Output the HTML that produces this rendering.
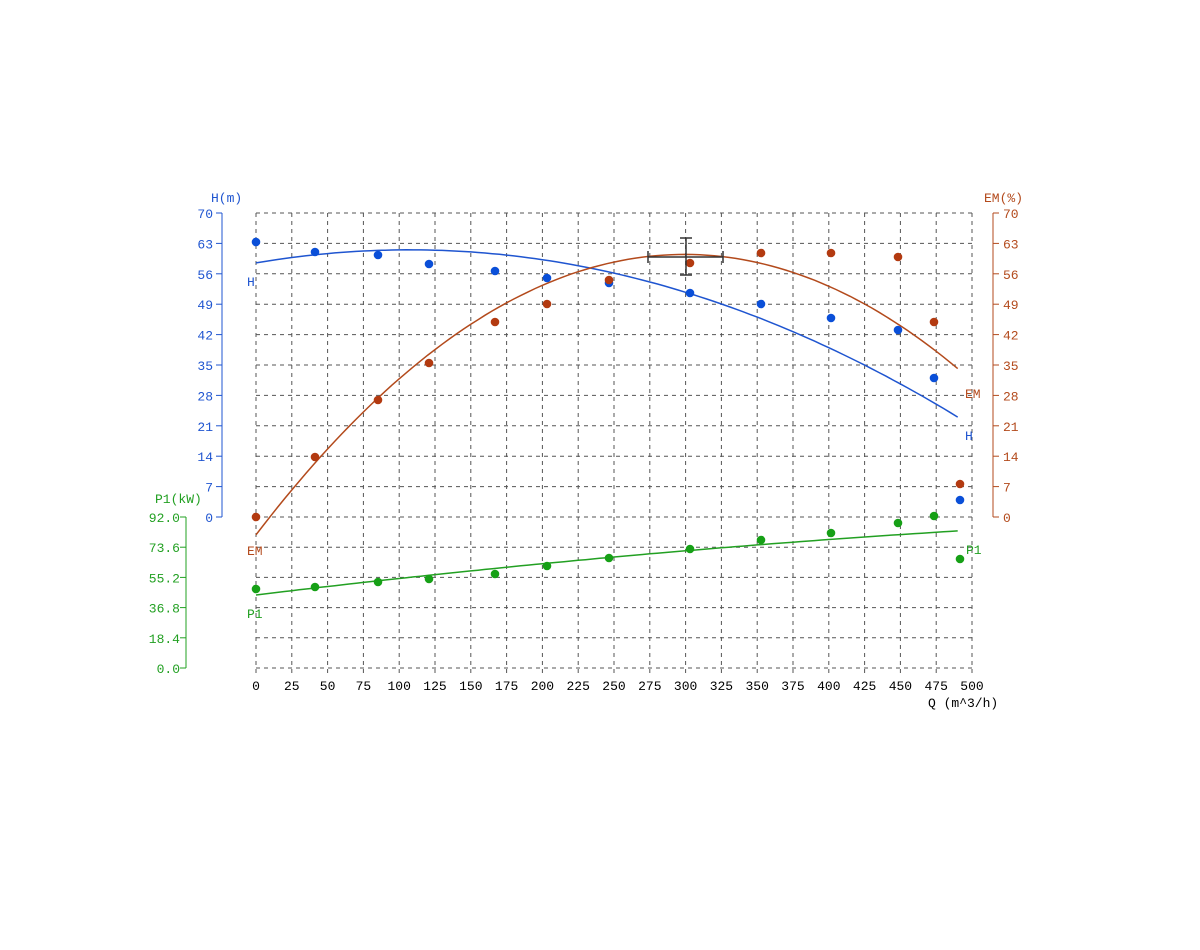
<!DOCTYPE html>
<html><head><meta charset="utf-8"><style>
html,body{margin:0;padding:0;background:#fff;width:1200px;height:950px;overflow:hidden}
svg{display:block}
text{font-family:"Liberation Mono","DejaVu Sans Mono",monospace;font-size:13px}
</style></head><body>
<svg id="s" width="1200" height="950" xmlns="http://www.w3.org/2000/svg"></svg>
<script>
const s=document.getElementById('s');let h='';
const X0=256,X1=972,Y0=213,Y1=668;
const xq=q=>X0+q*(X1-X0)/500;
const yH=v=>517-v*304/70;
const yP=v=>668-v*151/92;
// grid
for(let i=0;i<=20;i++){const x=xq(i*25);h+=`<line x1="${x}" y1="${Y0}" x2="${x}" y2="${Y1+5}" stroke="#555" stroke-dasharray="4,4"/>`;
h+=`<text x="${x}" y="690" text-anchor="middle" fill="#000">${i*25}</text>`;}
const ys=[];for(let i=0;i<=10;i++)ys.push(yH(i*7));for(let i=1;i<=5;i++)ys.push(517+i*151/5);
ys.forEach(y=>h+=`<line x1="${X0}" y1="${y}" x2="${X1}" y2="${y}" stroke="#555" stroke-dasharray="4,4"/>`);
// left H axis
h+=`<line x1="222" y1="213" x2="222" y2="517" stroke="#1f55d0"/>`;
for(let i=0;i<=10;i++){const y=yH(i*7);h+=`<line x1="216" y1="${y}" x2="222" y2="${y}" stroke="#1f55d0"/><text x="213" y="${y+5}" text-anchor="end" fill="#1f55d0">${i*7}</text>`;}
h+=`<text x="211" y="202" fill="#1f55d0">H(m)</text>`;
// right EM axis
h+=`<line x1="993" y1="213" x2="993" y2="517" stroke="#b34a1c"/>`;
for(let i=0;i<=10;i++){const y=yH(i*7);h+=`<line x1="993" y1="${y}" x2="999" y2="${y}" stroke="#b34a1c"/><text x="1003" y="${y+5}" fill="#b34a1c">${i*7}</text>`;}
h+=`<text x="984" y="202" fill="#b34a1c">EM(%)</text>`;
// P1 axis
h+=`<line x1="186" y1="517" x2="186" y2="668" stroke="#22a022"/>`;
const pl=["92.0","73.6","55.2","36.8","18.4","0.0"];
pl.forEach((t,i)=>{const y=517+i*151/5;h+=`<line x1="180" y1="${y}" x2="186" y2="${y}" stroke="#22a022"/><text x="180" y="${y+5}" text-anchor="end" fill="#22a022">${t}</text>`;});
h+=`<text x="155" y="503" fill="#22a022">P1(kW)</text>`;
h+=`<text x="928" y="707" fill="#000">Q (m^3/h)</text>`;
// curves
function curve(f,ymap,col){let d='';for(let q=0;q<=490;q+=5){d+=(q?'L':'M')+xq(q).toFixed(1)+','+ymap(f(q)).toFixed(1);}h+=`<path d="${d}" fill="none" stroke="${col}" stroke-width="1.5"/>`;}
curve(q=>58.5+0.0563*q-0.0002627*q*q,yH,'#1f55d0');
curve(q=>-4.1+0.431*q-0.000718*q*q-0.0000000045*q*q*q,yH,'#b34a1c');
curve(q=>44.5+0.1058*q-0.0000534*q*q,yP,'#22a022');
const pts={'#0a4fd8':[[256,242],[315,252],[378,255],[429,264],[495,271],[547,278],[609,283],[690,293],[761,304],[831,318],[898,330],[934,378],[960,500]],
'#b33a10':[[256,517],[315,457],[378,400],[429,363],[495,322],[547,304],[609,280],[690,263],[761,253],[831,253],[898,257],[934,322],[960,484]],
'#16a016':[[256,589],[315,587],[378,582],[429,579],[495,574],[547,566],[609,558],[690,549],[761,540],[831,533],[898,523],[934,516],[960,559]]};
for(const c in pts)pts[c].forEach(p=>h+=`<circle cx="${p[0]}" cy="${p[1]}" r="4.3" fill="${c}"/>`);
// labels
h+=`<text x="247" y="286" fill="#1f55d0">H</text><text x="965" y="440" fill="#1f55d0">H</text>`;
h+=`<text x="965" y="398" fill="#b34a1c">EM</text><text x="247" y="555" fill="#b34a1c">EM</text>`;
h+=`<text x="247" y="618" fill="#22a022">P1</text><text x="966" y="554" fill="#22a022">P1</text>`;
// crosshair
h+=`<g stroke="#333" stroke-width="1.5"><line x1="648" y1="257" x2="723" y2="257"/><line x1="648" y1="251" x2="648" y2="263"/><line x1="723" y1="251" x2="723" y2="263"/><line x1="686" y1="238" x2="686" y2="275"/><line x1="680" y1="238" x2="692" y2="238"/><line x1="680" y1="275" x2="692" y2="275"/></g>`;
s.innerHTML=h;
</script>
</body></html>
